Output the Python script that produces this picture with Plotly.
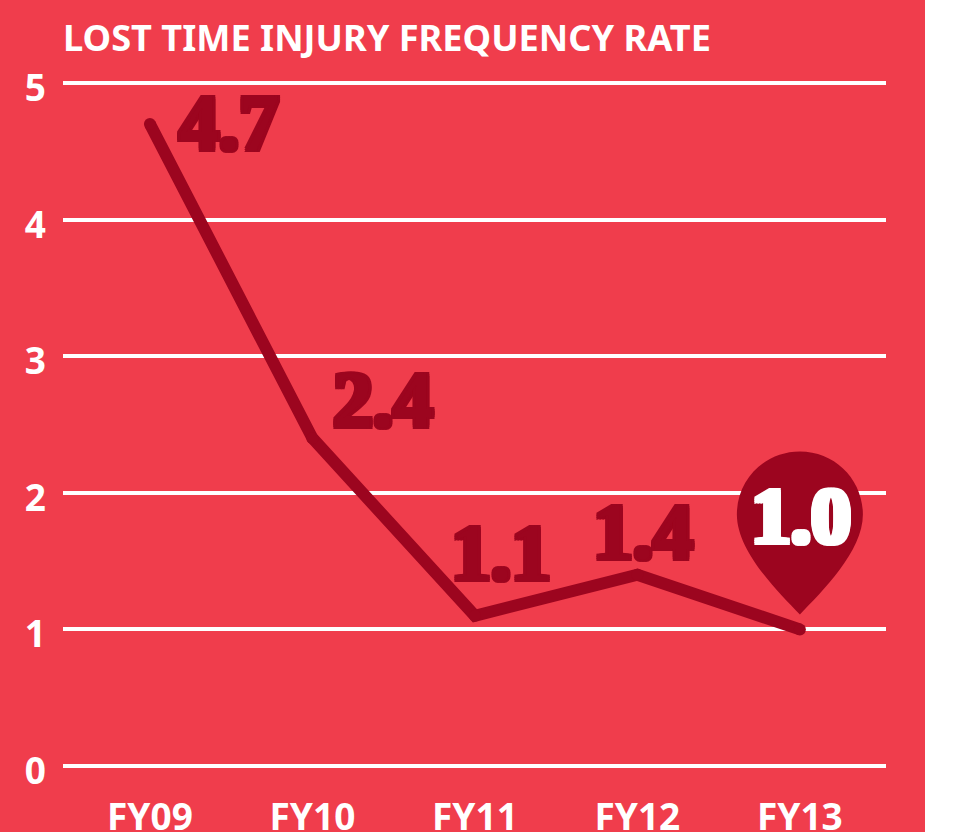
import plotly.graph_objects as go

categories = ["FY09", "FY10", "FY11", "FY12", "FY13"]
values = [4.7, 2.4, 1.1, 1.4, 1.0]
labels = ["4.7", "2.4", "1.1", "1.4", "1.0"]
label_shift_x = [79, 71, 26, 6, 1]
label_shift_y = [1, 38, 63, 43, 113]
y_ticks = [0, 1, 2, 3, 4, 5]

RED = "#F03D4C"
DARK = "#9C051F"
WHITE = "#FFFFFF"
UI_FONT = "Noto Sans"
NUM_FONT = "Liberation Serif"

PIN = ("M 0 15 C -22 38 -63 78 -63 115 C -63 150 -35 178 0 178 "
       "C 35 178 63 150 63 115 C 63 78 22 38 0 15 Z")


def heavy(color, rx=3, ry=2):
    return ", ".join(f"{dx}px {dy}px 0 {color}" for dx in (-rx, 0, rx) for dy in (-ry, 0, ry) if dx or dy)


fig = go.Figure()
fig.add_trace(go.Scatter(
    x=categories, y=values, mode="lines+markers",
    line=dict(color=DARK, width=12),
    marker=dict(color=DARK, size=12),
    cliponaxis=False, hoverinfo="skip",
))

annotations = []
for c, v, t, dx, dy in zip(categories, values, labels, label_shift_x, label_shift_y):
    col = WHITE if c == "FY13" else DARK
    annotations.append(dict(
        x=c, y=v, text=f"<b>{t}</b>", showarrow=False, xshift=dx, yshift=dy,
        font=dict(family=NUM_FONT, size=80, color=col, shadow=heavy(col)),
    ))

fig.update_layout(
    width=954, height=832,
    margin=dict(l=63, r=68, t=80, b=63, pad=0, autoexpand=False),
    paper_bgcolor=RED, plot_bgcolor=RED,
    showlegend=False,
    title=dict(text="<b>LOST TIME INJURY FREQUENCY RATE</b>",
               font=dict(family=UI_FONT, size=36.2, color=WHITE),
               x=63 / 954, xanchor="left", y=1 - 38 / 832, yanchor="middle"),
    xaxis=dict(type="category", categoryorder="array", categoryarray=categories,
               range=[-0.535, 4.53], showgrid=False, zeroline=False, showline=False,
               automargin=False, ticks="", ticklabelstandoff=23,
               tickfont=dict(family=UI_FONT, size=37, color=WHITE, weight="bold")),
    yaxis=dict(range=[-0.022, 5.022], tickvals=y_ticks, showgrid=True, gridcolor=WHITE, gridwidth=4,
               automargin=False, zeroline=False, showline=False, ticks="", ticklabelstandoff=16,
               ticklabelshift=5,
               tickfont=dict(family=UI_FONT, size=37, color=WHITE, weight="bold")),
    annotations=annotations,
    shapes=[
        dict(type="path", xref="x", yref="y", xsizemode="pixel", ysizemode="pixel",
             xanchor="FY13", yanchor=1.0, path=PIN, fillcolor=DARK, line_width=0, layer="between"),
        dict(type="rect", xref="paper", yref="paper", x0=(925 - 63) / 823, x1=(954 - 63) / 823,
             y0=-0.2, y1=1.2, fillcolor=WHITE, line_width=0, layer="above"),
    ],
)
fig.write_html("out.html", config=dict(displayModeBar=False),
               post_script="document.body.style.margin='0';document.body.style.overflow='hidden';")
